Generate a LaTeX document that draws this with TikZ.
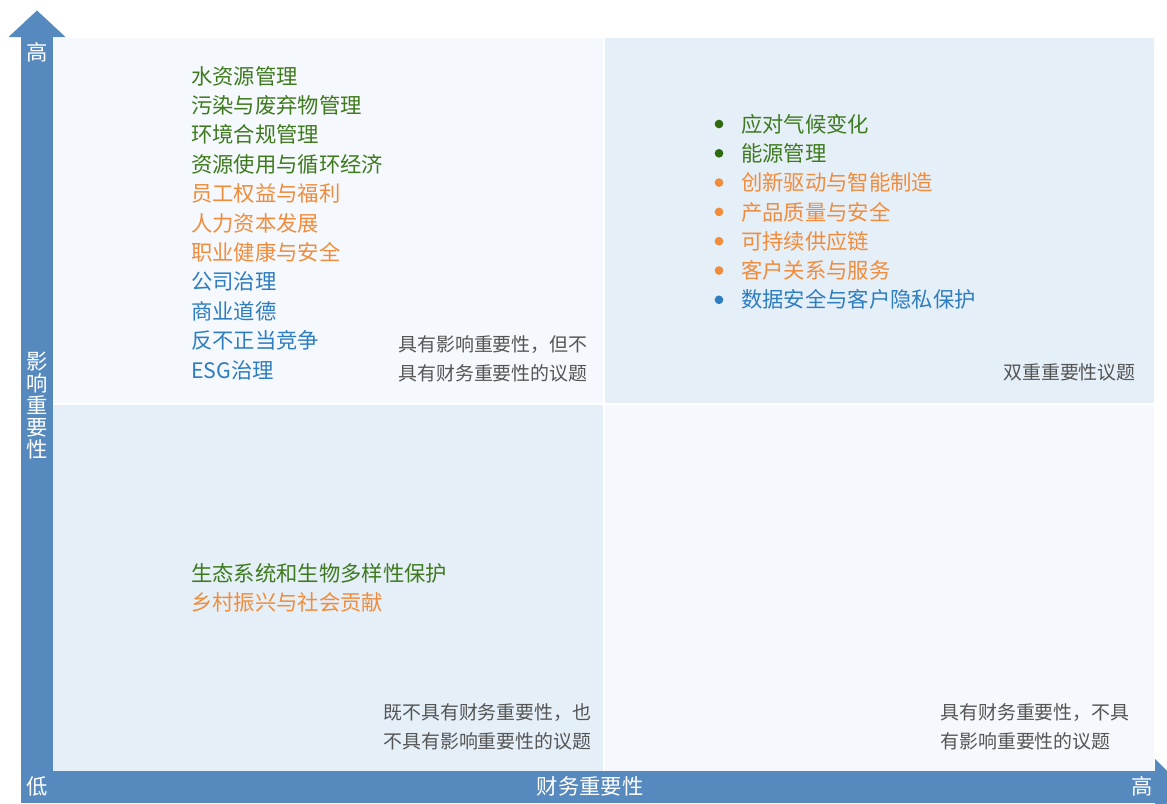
\documentclass[tikz,border=0pt]{standalone}
\usepackage{fontspec}
\setmainfont{Noto Sans CJK SC}
\usetikzlibrary{positioning}

\definecolor{axisblue}{HTML}{5689BE}
\definecolor{paleq}{HTML}{F5F9FD}
\definecolor{lightq}{HTML}{E5EFF8}
\definecolor{envgreen}{HTML}{3F7A1E}
\definecolor{dotgreen}{HTML}{2F6A10}
\definecolor{socorange}{HTML}{F08C3C}
\definecolor{govblue}{HTML}{2E7DC0}
\definecolor{notegray}{HTML}{555555}

\tikzset{
  topic/.style={anchor=west, inner sep=0pt, font=\fontsize{16}{16}\selectfont},
  note/.style={inner sep=0pt, align=left, text=notegray, font=\fontsize{14.2}{21.9}\selectfont},
  axislabel/.style={inner sep=0pt, text=white, font=\fontsize{16}{16.5}\selectfont},
  dot/.style={circle, inner sep=0pt, minimum size=6.5pt}
}

\begin{document}
\begin{tikzpicture}[x=0.75pt, y=-0.75pt]
\useasboundingbox (0,0) rectangle (1167,803);
\clip (0,0) rectangle (1167,803);

% quadrants
\fill [paleq] (53,38) rectangle (603,403);
\fill [lightq] (605,38) rectangle (1154,403);
\fill [lightq] (53,405) rectangle (603,771);
\fill [paleq] (605,405) rectangle (1154,771);

% axes
\fill [axisblue] (21,37) rectangle (53,803);
\fill [axisblue] (8.5,37) -- (37,10.5) -- (65.5,37) -- cycle;
\fill [axisblue] (21,771) rectangle (1155,803);
\fill [axisblue] (1155,759) -- (1183,787) -- (1155,815) -- cycle;

\node [axislabel] (yhigh) at (37,52) {高};
\node [axislabel, align=center] (ytitle) at (37,406) {影\\响\\重\\要\\性};
\node [axislabel] (origin) at (37,786) {低};
\node [axislabel] (xtitle) at (590,786) {财务重要性};
\node [axislabel] (xhigh) at (1142,786) {高};

% impact only
\node [topic, text=envgreen] (water) at (191,76) {水资源管理};
\node [topic, text=envgreen] (waste) at (191,105.4) {污染与废弃物管理};
\node [topic, text=envgreen] (compliance) at (191,134.8) {环境合规管理};
\node [topic, text=envgreen] (circular) at (191,164.2) {资源使用与循环经济};
\node [topic, text=socorange] (welfare) at (191,193.6) {员工权益与福利};
\node [topic, text=socorange] (talent) at (191,223) {人力资本发展};
\node [topic, text=socorange] (health) at (191,252.4) {职业健康与安全};
\node [topic, text=govblue] (governance) at (191,281.8) {公司治理};
\node [topic, text=govblue] (ethics) at (191,311.2) {商业道德};
\node [topic, text=govblue] (competition) at (191,340.6) {反不正当竞争};
\node [topic, text=govblue] (esg) at (191,370) {ESG治理};
\node [note, anchor=west] (impactnote) at (398,358.5) {具有影响重要性，但不\\具有财务重要性的议题};

% double materiality
\node [dot, fill=dotgreen] (d1) at (719,124) {};
\node [dot, fill=dotgreen] (d2) at (719,153.3) {};
\node [dot, fill=socorange] (d3) at (719,182.6) {};
\node [dot, fill=socorange] (d4) at (719,211.9) {};
\node [dot, fill=socorange] (d5) at (719,241.2) {};
\node [dot, fill=socorange] (d6) at (719,270.5) {};
\node [dot, fill=govblue] (d7) at (719,299.8) {};
\node [topic, text=envgreen] (climate) at (741,124) {应对气候变化};
\node [topic, text=envgreen] (energy) at (741,153.3) {能源管理};
\node [topic, text=socorange] (innovation) at (741,182.6) {创新驱动与智能制造};
\node [topic, text=socorange] (quality) at (741,211.9) {产品质量与安全};
\node [topic, text=socorange] (supply) at (741,241.2) {可持续供应链};
\node [topic, text=socorange] (customer) at (741,270.5) {客户关系与服务};
\node [topic, text=govblue] (privacy) at (741,299.8) {数据安全与客户隐私保护};
\node [note, anchor=east] (doublenote) at (1136,372) {双重重要性议题};

% neither
\node [topic, text=envgreen] (biodiversity) at (191,573) {生态系统和生物多样性保护};
\node [topic, text=socorange] (rural) at (191,602.5) {乡村振兴与社会贡献};
\node [note, anchor=west] (neithernote) at (383,726.5) {既不具有财务重要性，也\\不具有影响重要性的议题};

% financial only
\node [note, anchor=west] (financenote) at (940,726.5) {具有财务重要性，不具\\有影响重要性的议题};
\end{tikzpicture}
\end{document}
